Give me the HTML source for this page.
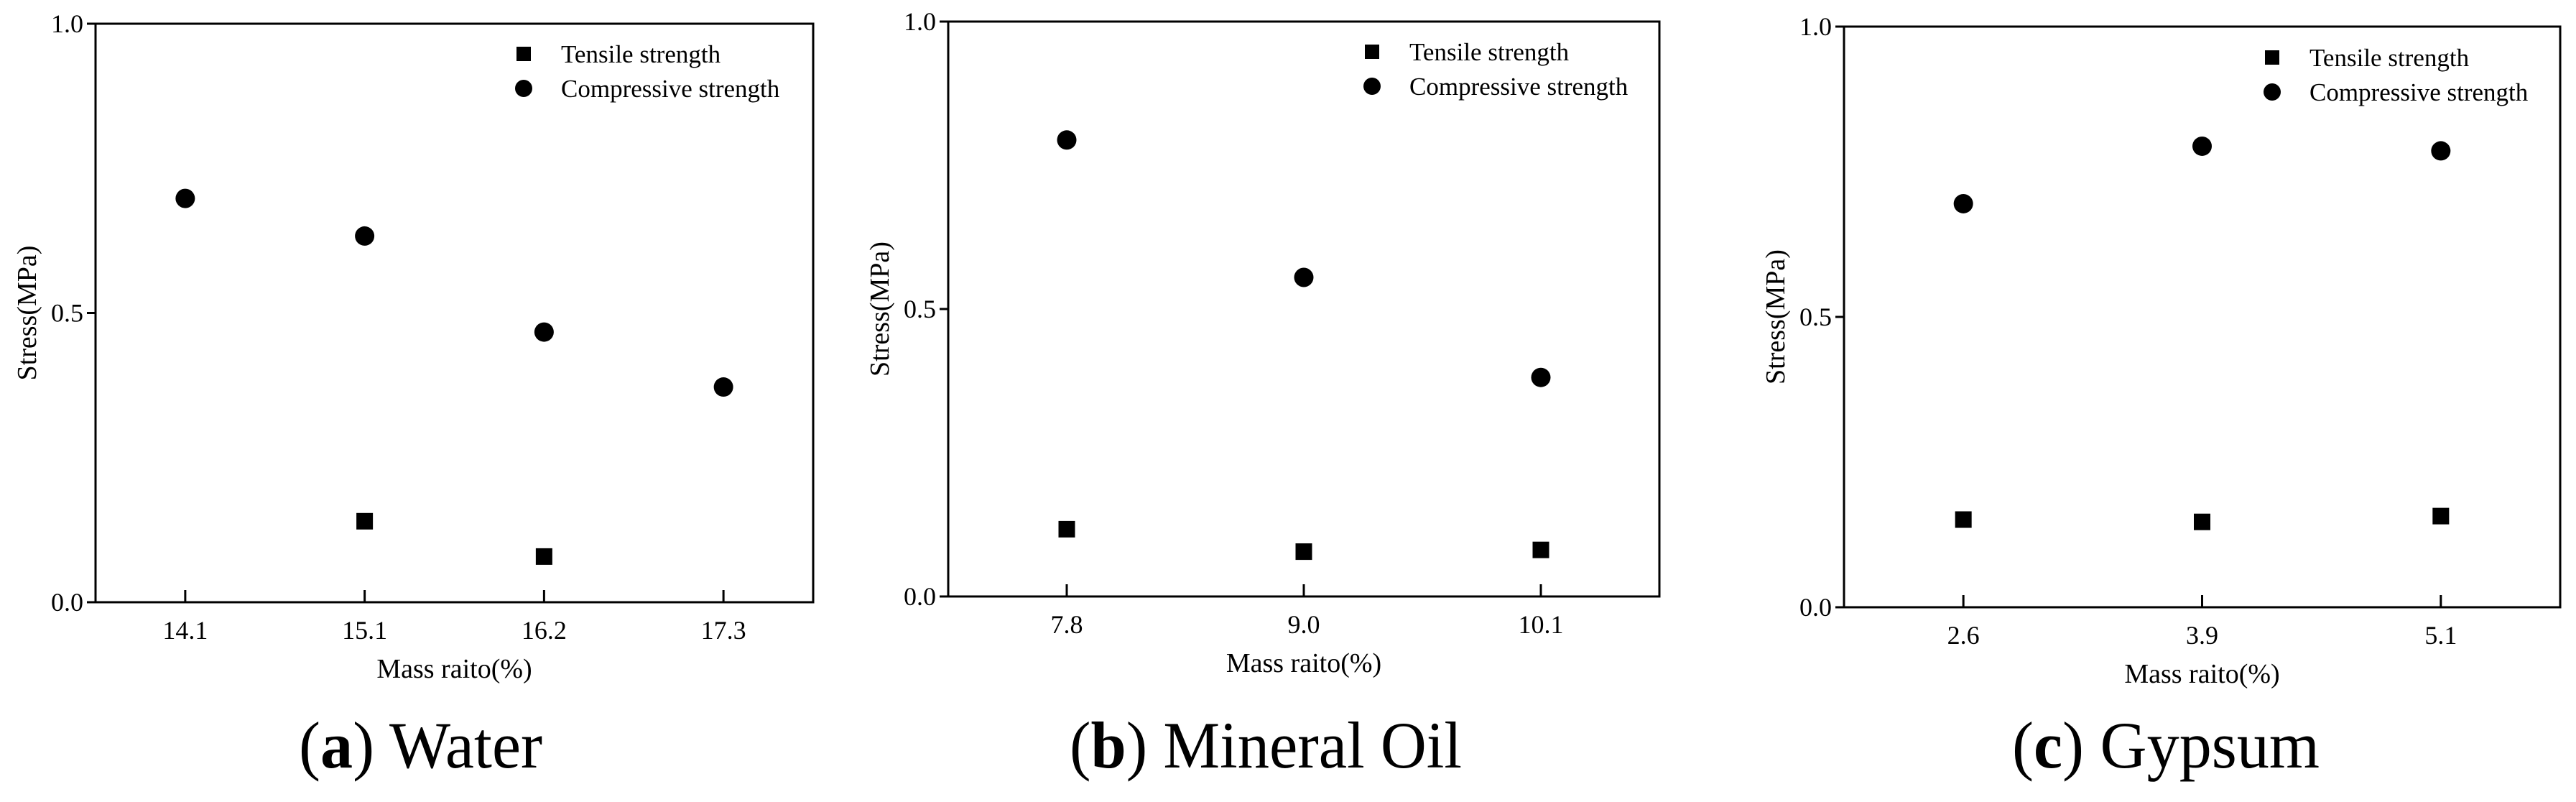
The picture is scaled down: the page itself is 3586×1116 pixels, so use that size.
<!DOCTYPE html>
<html><head><meta charset="utf-8"><style>
html,body{margin:0;padding:0;background:#fff}
svg{display:block;font-family:"Liberation Serif",serif}
</style></head><body>
<svg id="fig" width="3586" height="1116" viewBox="0 0 3586 1116" xmlns="http://www.w3.org/2000/svg"></svg>
<script>
// Panel (a) Water
const catsA = ["14.1","15.1","16.2","17.3"];
const compA = [0.698,0.633,0.467,0.372];
const tensA = [null,0.140,0.079,null];
// Panel (b) Mineral Oil
const catsB = ["7.8","9.0","10.1"];
const compB = [0.794,0.555,0.381];
const tensB = [0.117,0.078,0.081];
// Panel (c) Gypsum
const catsC = ["2.6","3.9","5.1"];
const compC = [0.695,0.794,0.786];
const tensC = [0.151,0.147,0.157];
const yTicks = ["0.0","0.5","1.0"];
const yTickVals = [0,0.5,1];

const NS="http://www.w3.org/2000/svg";
const svg=document.getElementById('fig');
function mk(tag,attrs,parent){const e=document.createElementNS(NS,tag);for(const k in attrs)e.setAttribute(k,attrs[k]);(parent||svg).appendChild(e);return e;}

function panel(id,L,R,T,B,cats,comp,tens,legX,legY,cap,capBold,capX,capW){
  const g=mk('g',{});
  
  
  const n=cats.length;
  const xs=i=>L+(i+0.5)/n*(R-L);
  const ys=v=>B-v*(B-T);
  const frame=mk('rect',{x:L,y:T,width:R-L,height:B-T,fill:'none',stroke:'#000','stroke-width':3},g);
  
  
  yTickVals.forEach((v,i)=>{
    const t=mk('line',{x1:L-12,x2:L,y1:ys(v),y2:ys(v),stroke:'#000','stroke-width':3},g);
    
    
    const tx=mk('text',{x:L-17,y:ys(v)+12,'text-anchor':'end','font-size':36},g);
    tx.textContent=yTicks[i];
    
    
  });
  cats.forEach((c,i)=>{
    const t=mk('line',{x1:xs(i),x2:xs(i),y1:B-17,y2:B,stroke:'#000','stroke-width':3},g);
    
    
    const tx=mk('text',{x:xs(i),y:B+51,'text-anchor':'middle','font-size':36},g);
    tx.textContent=c;
    
    
  });
  const xt=mk('text',{x:(L+R)/2,y:B+105,'text-anchor':'middle','font-size':38},g);
  xt.textContent='Mass raito(%)';
  
  
  const cy=(T+B)/2, cx=L-95;
  const yt=mk('text',{x:cx,y:cy+12,'text-anchor':'middle','font-size':38,transform:`rotate(-90 ${cx} ${cy})`},g);
  yt.textContent='Stress(MPa)';
  
  
  comp.forEach((v,i)=>{ if(v==null)return;
    const c=mk('circle',{cx:xs(i),cy:ys(v),r:13.5,fill:'#000'},g);
    
    
  });
  tens.forEach((v,i)=>{ if(v==null)return;
    const s=mk('rect',{x:xs(i)-11.5,y:ys(v)-11.5,width:23,height:23,fill:'#000'},g);
    
    
  });
  const ls=mk('rect',{x:legX-10,y:legY-10,width:20,height:20,fill:'#000'},g);
  
  
  const lt1=mk('text',{x:legX+52,y:legY+12,'font-size':35},g);
  lt1.textContent='Tensile strength';
  
  
  const lc=mk('circle',{cx:legX,cy:legY+48,r:12,fill:'#000'},g);
  
  
  const lt2=mk('text',{x:legX+52,y:legY+60,'font-size':35},g);
  lt2.textContent='Compressive strength';
  
  
  const ct=mk('text',{x:capX,y:1068,'font-size':92,textLength:capW,lengthAdjust:'spacingAndGlyphs'},g);
  
  
  const t1=mk('tspan',{},ct);t1.textContent='(';
  const t2=mk('tspan',{'font-weight':'bold'},ct);t2.textContent=capBold;
  const t3=mk('tspan',{},ct);t3.textContent=') '+cap;
}
panel('water',133,1132,33,838,catsA,compA,tensA,729,75,'Water','a',416,339);
panel('mineral-oil',1320,2310,30,830,catsB,compB,tensB,1910,72,'Mineral Oil','b',1489,546);
panel('gypsum',2567,3564,37,845,catsC,compC,tensC,3163,80,'Gypsum','c',2801,428);
</script>
</body></html>
